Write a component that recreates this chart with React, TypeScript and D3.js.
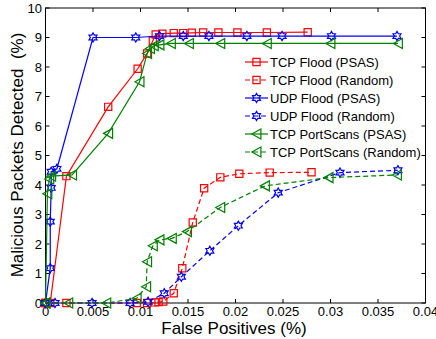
import React from "react";
import * as d3 from "d3";

const W = 436;
const H = 339;

const xTicks = [0, 0.005, 0.01, 0.015, 0.02, 0.025, 0.03, 0.035, 0.04];
const xTickLabels = ["0", "0.005", "0.01", "0.015", "0.02", "0.025", "0.03", "0.035", "0.04"];
const yTicks = [0, 1, 2, 3, 4, 5, 6, 7, 8, 9, 10];

const seriesNames = [
  "TCP Flood (PSAS)",
  "TCP Flood (Random)",
  "UDP Flood (PSAS)",
  "UDP Flood (Random)",
  "TCP PortScans (PSAS)",
  "TCP PortScans (Random)",
];

const tcpFloodPSAS: [number, number][] = [
  [0, 0], [0.0005, 0], [0.0022, 4.3], [0.0066, 6.65], [0.0097, 7.94], [0.0107, 8.46],
  [0.0113, 8.89], [0.0116, 9.1], [0.0123, 9.13], [0.0135, 9.15], [0.0145, 9.15],
  [0.0154, 9.16], [0.0166, 9.17], [0.0182, 9.17], [0.0202, 9.17], [0.0233, 9.17], [0.0276, 9.18],
];
const tcpFloodRandom: [number, number][] = [
  [0, 0], [0.0022, 0], [0.0096, 0], [0.0107, 0], [0.0115, 0.02], [0.0119, 0.03], [0.0124, 0.05],
  [0.0135, 0.33], [0.0144, 1.18], [0.0155, 2.73], [0.0167, 3.89], [0.0184, 4.26],
  [0.0204, 4.38], [0.0236, 4.42], [0.028, 4.43],
];
const udpFloodPSAS: [number, number][] = [
  [0, 0], [0.0005, 1.18], [0.0005, 2.76], [0.0006, 3.9], [0.0006, 4.45], [0.0012, 4.55],
  [0.005, 9.0], [0.0095, 9.0], [0.012, 9.05], [0.0145, 9.05], [0.0172, 9.05], [0.0212, 9.05],
  [0.0249, 9.05], [0.0301, 9.05], [0.037, 9.05],
];
const udpFloodRandom: [number, number][] = [
  [0, 0], [0.001, 0], [0.0049, 0], [0.0089, 0], [0.0108, 0.04], [0.0125, 0.33],
  [0.0143, 0.89], [0.0173, 1.77], [0.0203, 2.62], [0.0245, 3.74], [0.031, 4.42], [0.0371, 4.5],
];
const tcpScanPSAS: [number, number][] = [
  [0, 0], [0.0002, 3.7], [0.0004, 4.2], [0.0006, 4.3], [0.0028, 4.34], [0.0066, 5.75],
  [0.0099, 7.5], [0.0107, 8.46], [0.011, 8.63], [0.0114, 8.72], [0.012, 8.75], [0.0132, 8.8],
  [0.0151, 8.8], [0.0184, 8.8], [0.0233, 8.8], [0.03, 8.8], [0.0371, 8.8],
];
const tcpScanRandom: [number, number][] = [
  [0, 0], [0.0024, 0], [0.0064, 0], [0.0096, 0.16], [0.0106, 0.55], [0.0107, 1.4],
  [0.0113, 1.94], [0.012, 2.14], [0.0133, 2.19], [0.0149, 2.42], [0.0184, 3.24],
  [0.0231, 3.97], [0.0298, 4.25], [0.037, 4.34],
];

const seriesData = [tcpFloodPSAS, tcpFloodRandom, udpFloodPSAS, udpFloodRandom, tcpScanPSAS, tcpScanRandom];
const seriesColors = ["#ff0000", "#ff0000", "#0000ff", "#0000ff", "#008000", "#008000"];
const seriesDashed = [false, true, false, true, false, true];
const seriesMarkers = ["square", "square", "hexagram", "hexagram", "triangleLeft", "triangleLeft"];

const M = { left: 45.5, right: 425.5, top: 8, bottom: 303 };
const FONT = "'Liberation Sans', Arial, Helvetica, sans-serif";

function markerPath(kind: string): string {
  if (kind === "square") {
    const s = 3.6;
    return `M${-s},${-s}L${s},${-s}L${s},${s}L${-s},${s}Z`;
  }
  if (kind === "hexagram") {
    const R = 4.6;
    const r = R / Math.sqrt(3);
    const pts: string[] = [];
    for (let i = 0; i < 12; i++) {
      const a = (Math.PI / 6) * i - Math.PI / 2;
      const rad = i % 2 === 0 ? R : r;
      pts.push(`${(rad * Math.cos(a)).toFixed(2)},${(rad * Math.sin(a)).toFixed(2)}`);
    }
    return "M" + pts.join("L") + "Z";
  }
  // left-pointing triangle
  return "M-4.6,0L4.4,-5L4.4,5Z";
}

export default function App() {
  const x = d3.scaleLinear().domain([0, 0.04]).range([M.left, M.right]);
  const y = d3.scaleLinear().domain([0, 10]).range([M.bottom, M.top]);
  const line = d3
    .line<[number, number]>()
    .x((d) => x(d[0]))
    .y((d) => y(d[1]));

  const legX0 = 245;
  const legX1 = 268;
  const legY0 = 62;
  const legDY = 18;

  return (
    <svg
      width={W}
      height={H}
      style={{ position: "fixed", left: 0, top: 0, background: "#fff" }}
      fontFamily={FONT}
    >
      <rect x={0} y={0} width={W} height={H} fill="#fff" />
      {/* ticks */}
      {xTicks.map((t, i) => (
        <g key={"xt" + i}>
          <line x1={x(t)} x2={x(t)} y1={M.bottom} y2={M.bottom - 4} stroke="#000" />
          <line x1={x(t)} x2={x(t)} y1={M.top} y2={M.top + 4} stroke="#000" />
          <text x={x(t)} y={316} fontSize={13} textAnchor="middle" fill="#000">
            {xTickLabels[i]}
          </text>
        </g>
      ))}
      {yTicks.map((t, i) => (
        <g key={"yt" + i}>
          <line x1={M.left} x2={M.left + 4} y1={y(t)} y2={y(t)} stroke="#000" />
          <line x1={M.right} x2={M.right - 4} y1={y(t)} y2={y(t)} stroke="#000" />
          <text x={42} y={y(t) + 4.6} fontSize={13} textAnchor="end" fill="#000">
            {String(t)}
          </text>
        </g>
      ))}
      <rect
        x={M.left}
        y={M.top}
        width={M.right - M.left}
        height={M.bottom - M.top}
        fill="none"
        stroke="#000"
        strokeWidth={1}
      />
      {/* series */}
      {seriesData.map((data, si) => (
        <g key={"s" + si}>
          <path
            d={line(data) || ""}
            fill="none"
            stroke={seriesColors[si]}
            strokeWidth={1.2}
            strokeDasharray={seriesDashed[si] ? "5,3" : undefined}
          />
          {data.map((d, k) => (
            <path
              key={k}
              d={markerPath(seriesMarkers[si])}
              transform={`translate(${x(d[0])},${y(d[1])})`}
              fill="none"
              stroke={seriesColors[si]}
              strokeWidth={1.2}
            />
          ))}
        </g>
      ))}
      {/* legend */}
      {seriesNames.map((name, i) => {
        const ly = legY0 + i * legDY;
        return (
          <g key={"lg" + i}>
            <line
              x1={legX0}
              x2={legX1}
              y1={ly}
              y2={ly}
              stroke={seriesColors[i]}
              strokeWidth={1.2}
              strokeDasharray={seriesDashed[i] ? "5,3" : undefined}
            />
            <path
              d={markerPath(seriesMarkers[i])}
              transform={`translate(${(legX0 + legX1) / 2},${ly})`}
              fill="none"
              stroke={seriesColors[i]}
              strokeWidth={1.2}
            />
            <text x={270} y={ly + 4.6} fontSize={13} fill="#000">
              {name}
            </text>
          </g>
        );
      })}
      {/* axis labels */}
      <text x={234} y={334} fontSize={17} textAnchor="middle" fill="#000">
        False Positives (%)
      </text>
      <text
        transform={`translate(23,155) rotate(-90)`}
        fontSize={17}
        textAnchor="middle"
        fill="#000"
        style={{ whiteSpace: "pre" }}
      >
        {"Malicious Packets Detected  (%)"}
      </text>
    </svg>
  );
}
